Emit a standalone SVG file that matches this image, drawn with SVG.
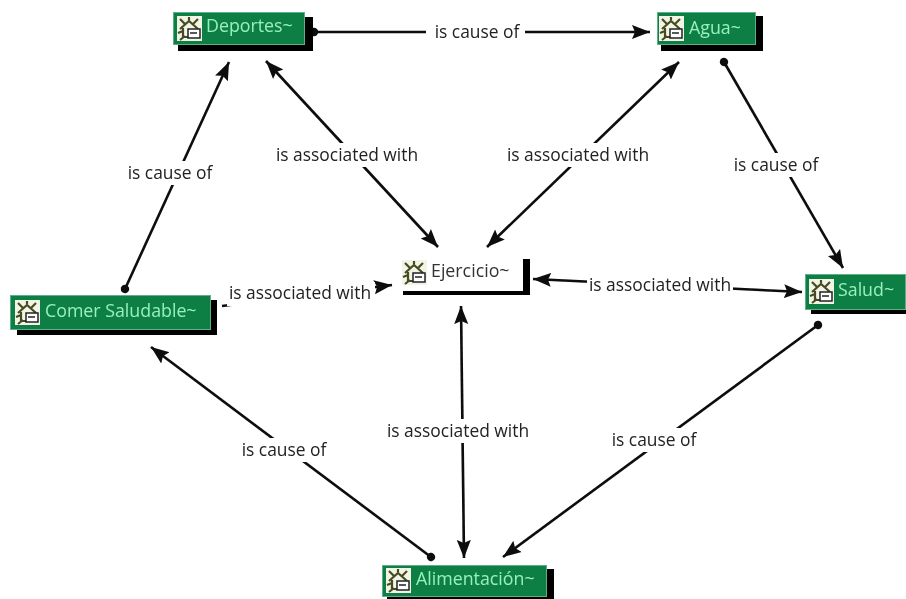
<svg xmlns="http://www.w3.org/2000/svg" width="906" height="599" viewBox="0 0 906 599">
<style>
.lbl{font-family:"Open Sans","Liberation Sans",sans-serif;font-size:17.4px;fill:#222;text-anchor:middle}
.nm{font-family:"Open Sans","Liberation Sans",sans-serif;font-size:17.8px;fill:#9af0bc}
.box{fill:#0d7f45;stroke:#5fb088;stroke-width:1}
.sh{fill:#060606}
.ln{stroke:#0a0a0a;stroke-width:2.6;fill:none}
.bg{fill:#fff}
</style>
<defs>
<marker id="arr" markerUnits="userSpaceOnUse" markerWidth="20" markerHeight="16" refX="18" refY="8" orient="auto-start-reverse"><path d="M0 1 L18 8 L0 15 L3 8Z" fill="#0a0a0a"/></marker>
<marker id="dot" markerUnits="userSpaceOnUse" markerWidth="10" markerHeight="10" refX="5" refY="5" orient="auto"><circle cx="5" cy="5" r="4.200" fill="#0a0a0a"/></marker>
<g id="ic">
<rect width="25" height="25" fill="#f1f5e6"/>
<path d="M3 13 L12 5 L21 13 M6 12 V21 H11 M3 3 L8 8 M21 3 L16 8 M12 1 V4 M1 17 L6 15 M3 24 L8 20" stroke="#4a4a20" stroke-width="2.200" fill="none"/>
<rect x="11" y="13" width="12" height="9" fill="#fff" stroke="#222" stroke-width="1.500"/>
<path d="M13 17 H20" stroke="#222" stroke-width="1.500"/>
</g>
<filter id="soft" x="0" y="0" width="100%" height="100%"><feGaussianBlur stdDeviation="0.45"/></filter>
</defs>
<rect width="906" height="599" fill="#fff"/>
<g filter="url(#soft)">
<g id="connectors">
<path class="ln" marker-start="url(#dot)" marker-end="url(#arr)" d="M314 32 L650 32"/>
<path class="ln" marker-start="url(#dot)" marker-end="url(#arr)" d="M724 62 L843 268"/>
<path class="ln" marker-start="url(#dot)" marker-end="url(#arr)" d="M818 325 L503 557"/>
<path class="ln" marker-start="url(#dot)" marker-end="url(#arr)" d="M431 557 L151 347"/>
<path class="ln" marker-start="url(#dot)" marker-end="url(#arr)" d="M125 289 L229 62"/>
<path class="ln" marker-start="url(#arr)" marker-end="url(#arr)" d="M266 61 L438 247"/>
<path class="ln" marker-start="url(#arr)" marker-end="url(#arr)" d="M679 62 L487 247"/>
<path class="ln" marker-start="url(#arr)" marker-end="url(#arr)" d="M533 279 L802 292"/>
<path class="ln" marker-start="url(#arr)" marker-end="url(#arr)" d="M461 306 L464 558"/>
<path class="ln" marker-end="url(#arr)" d="M222 306 L392 285"/>
<rect class="bg" x="426" y="20" width="99" height="24"/><text class="lbl" x="477" y="38">is cause of</text>
<rect class="bg" x="731" y="153" width="92" height="24"/><text class="lbl" x="776" y="171">is cause of</text>
<rect class="bg" x="609" y="428" width="91" height="24"/><text class="lbl" x="654" y="446">is cause of</text>
<rect class="bg" x="238" y="438" width="92" height="24"/><text class="lbl" x="284" y="456">is cause of</text>
<rect class="bg" x="124" y="161" width="92" height="24"/><text class="lbl" x="170" y="179">is cause of</text>
<rect class="bg" x="274" y="143" width="147" height="24"/><text class="lbl" x="347" y="161">is associated with</text>
<rect class="bg" x="505" y="143" width="147" height="24"/><text class="lbl" x="578" y="161">is associated with</text>
<rect class="bg" x="587" y="274" width="146" height="24"/><text class="lbl" x="660" y="291">is associated with</text>
<rect class="bg" x="385" y="419" width="146" height="24"/><text class="lbl" x="458" y="437">is associated with</text>
<rect class="bg" x="227" y="282" width="148" height="24"/><text class="lbl" x="300" y="299">is associated with</text>
</g>
<g id="deportes">
<rect class="sh" x="178" y="17" width="135" height="34"/><rect class="box" x="173.500" y="12.500" width="131" height="32"/>
<use href="#ic" x="177" y="16"/><text class="nm" x="206" y="32">Deportes~</text>
</g>
<g id="agua">
<rect class="sh" x="661" y="16" width="102" height="35"/><rect class="box" x="657.500" y="12.500" width="98" height="32"/>
<use href="#ic" x="659" y="16"/><text class="nm" x="689" y="34">Agua~</text>
</g>
<g id="comer-saludable">
<rect class="sh" x="17" y="300" width="200" height="35"/><rect class="box" x="10.500" y="295.500" width="200" height="34"/>
<use href="#ic" x="15" y="300"/><text class="nm" x="45" y="317">Comer Saludable~</text>
</g>
<g id="ejercicio">
<path class="sh" d="M403 291 H523 V259 H530 V295 H403Z"/>
<use href="#ic" x="402" y="260"/><text class="nm" x="431" y="277" style="fill:#333">Ejercicio~</text>
</g>
<g id="salud">
<rect class="sh" x="811" y="278" width="95" height="36"/><rect class="box" x="805.500" y="274.500" width="100" height="35"/>
<use href="#ic" x="809" y="279"/><text class="nm" x="838" y="296">Salud~</text>
</g>
<g id="alimentacion">
<rect class="sh" x="387" y="569" width="167" height="30"/><rect class="box" x="382.500" y="565.500" width="164" height="31"/>
<use href="#ic" x="386" y="568"/><text class="nm" x="416" y="585">Alimentación~</text>
</g>
</g>
</svg>
